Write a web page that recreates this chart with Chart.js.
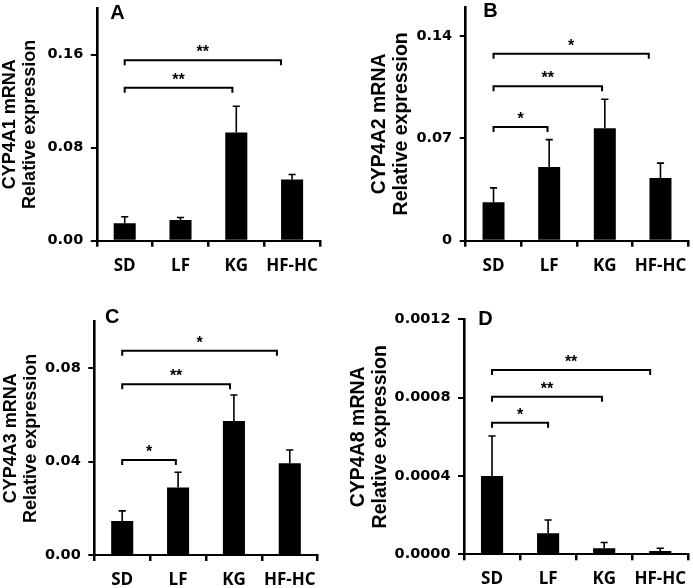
<!DOCTYPE html>
<html><head><meta charset="utf-8">
<script src="https://cdn.jsdelivr.net/npm/chart.js@4.4.1/dist/chart.umd.min.js"></script>
<style>
html,body{margin:0;padding:0;background:#fff;}
body{width:693px;height:588px;position:relative;overflow:hidden;}
canvas{position:absolute;}
</style></head><body>
<canvas id="cA" width="346" height="290" style="left:0;top:0"></canvas>
<canvas id="cB" width="347" height="290" style="left:346px;top:0"></canvas>
<canvas id="cC" width="346" height="298" style="left:0;top:290px"></canvas>
<canvas id="cD" width="347" height="298" style="left:346px;top:290px"></canvas>
<script>
// ---------- data ----------
const categories = ['SD', 'LF', 'KG', 'HF-HC'];

const cyp4a1Mean = [0.0150, 0.0177, 0.0929, 0.0526];
const cyp4a1Err  = [0.0056, 0.0023, 0.0226, 0.0043];
const cyp4a1Max = 0.2;
const cyp4a1Ticks = [0, 0.08, 0.16];
const cyp4a1TickLabels = ['0.00', '0.08', '0.16'];
const cyp4a1Brackets = [
  {from: 0, to: 1.93, y: 0.1315, label: '**'},
  {from: 0, to: 2.80, y: 0.1550, label: '**'}
];

const cyp4a2Mean = [0.0264, 0.0505, 0.0770, 0.0430];
const cyp4a2Err  = [0.0098, 0.0187, 0.0198, 0.0101];
const cyp4a2Max = 0.16;
const cyp4a2Ticks = [0, 0.07, 0.14];
const cyp4a2TickLabels = ['0', '0.07', '0.14'];
const cyp4a2Brackets = [
  {from: 0, to: 0.97, y: 0.0779, label: '*'},
  {from: 0, to: 1.95, y: 0.1057, label: '**'},
  {from: 0, to: 2.79, y: 0.1280, label: '*'}
];

const cyp4a3Mean = [0.0146, 0.0289, 0.0574, 0.0393];
const cyp4a3Err  = [0.0043, 0.0066, 0.0112, 0.0057];
const cyp4a3Max = 0.1;
const cyp4a3Ticks = [0, 0.04, 0.08];
const cyp4a3TickLabels = ['0.00', '0.04', '0.08'];
const cyp4a3Brackets = [
  {from: 0, to: 0.96, y: 0.0407, label: '*'},
  {from: 0, to: 1.93, y: 0.0732, label: '**'},
  {from: 0, to: 2.77, y: 0.0875, label: '*'}
];

const cyp4a8Mean = [0.000400, 0.000107, 0.000031, 0.000017];
const cyp4a8Err  = [0.000204, 0.000068, 0.000029, 0.000014];
const cyp4a8Max = 0.0012;
const cyp4a8Ticks = [0, 0.0004, 0.0008, 0.0012];
const cyp4a8TickLabels = ['0.0000', '0.0004', '0.0008', '0.0012'];
const cyp4a8Brackets = [
  {from: 0, to: 1.00, y: 0.000672, label: '*'},
  {from: 0, to: 1.96, y: 0.000805, label: '**'},
  {from: 0, to: 2.82, y: 0.000941, label: '**'}
];

// ---------- drawing ----------
function makePanel(id, p) {
  const annot = {
    id: 'annot_' + id,
    afterDatasetsDraw(chart) {
      const ctx = chart.ctx, xs = chart.scales.x, ys = chart.scales.y;
      const meta = chart.getDatasetMeta(0);
      ctx.save();
      ctx.strokeStyle = '#000';
      ctx.fillStyle = '#000';
      // error bars (upper only)
      ctx.lineWidth = 1.6;
      p.err.forEach((e, i) => {
        const bar = meta.data[i];
        const yt = ys.getPixelForValue(p.mean[i] + e);
        ctx.beginPath();
        ctx.moveTo(bar.x, bar.y);
        ctx.lineTo(bar.x, yt);
        ctx.moveTo(bar.x - 3.6, yt);
        ctx.lineTo(bar.x + 3.6, yt);
        ctx.stroke();
      });
      // significance brackets
      ctx.lineWidth = 2;
      ctx.font = 'bold 16px "Liberation Sans"';
      ctx.textAlign = 'center';
      ctx.textBaseline = 'alphabetic';
      p.brackets.forEach(b => {
        const x1 = xs.getPixelForValue(b.from), x2 = xs.getPixelForValue(b.to);
        const yy = ys.getPixelForValue(b.y);
        ctx.beginPath();
        ctx.moveTo(x1, yy + 5); ctx.lineTo(x1, yy); ctx.lineTo(x2, yy); ctx.lineTo(x2, yy + 5);
        ctx.stroke();
        ctx.fillText(b.label, (x1 + x2) / 2, yy - 3);
      });
      // panel letter
      ctx.font = 'bold 20px "Liberation Sans"';
      ctx.textAlign = 'left';
      ctx.fillText(p.letter, chart.chartArea.left + p.letterDx, chart.chartArea.top + p.letterDy);
      ctx.restore();
    }
  };
  return new Chart(document.getElementById(id), {
    type: 'bar',
    data: {
      labels: categories,
      datasets: [{
        data: p.mean,
        backgroundColor: '#000',
        borderWidth: 0,
        barPercentage: 0.395,
        categoryPercentage: 1
      }]
    },
    options: {
      responsive: false,
      animation: false,
      devicePixelRatio: 1,
      layout: {padding: {left: 0, top: p.padTop, right: p.padRight, bottom: 0}},
      plugins: {legend: {display: false}, tooltip: {enabled: false}},
      scales: {
        x: {
          type: 'category',
          offset: true,
          grid: {offset: true, drawOnChartArea: false, drawTicks: true, tickLength: 6, lineWidth: 2.5, color: '#000'},
          border: {display: true, color: '#000', width: 2},
          ticks: {color: '#000', padding: 9, font: {family: '"Open Sans"', weight: 'bold', size: 17}, maxRotation: 0},
          afterFit: s => { s.height = p.xH; s.paddingLeft = 0; s.paddingRight = 0; }
        },
        y: {
          min: 0,
          max: p.max,
          grid: {drawOnChartArea: false, drawTicks: true, tickLength: 6, lineWidth: 2, color: '#000'},
          border: {display: true, color: '#000', width: 2.6},
          ticks: {
            color: '#000', padding: 7.5,
            font: {family: '"DejaVu Sans"', weight: 'bold', size: 14.5},
            callback: (v, i) => p.tickLabels[i]
          },
          afterBuildTicks: s => { s.ticks = p.ticks.map(v => ({value: v})); },
          title: {
            display: true,
            text: p.title,
            color: '#000',
            font: {family: '"Liberation Sans"', weight: 'bold', size: p.titleSize, lineHeight: 1.1},
            padding: {top: p.titlePad, bottom: 0}
          },
          afterFit: s => { s.width = p.yW; s.paddingTop = 0; s.paddingBottom = 0; }
        }
      }
    },
    plugins: [annot]
  });
}

makePanel('cA', {
  mean: cyp4a1Mean, err: cyp4a1Err, max: cyp4a1Max, ticks: cyp4a1Ticks, tickLabels: cyp4a1TickLabels,
  brackets: cyp4a1Brackets, title: ['CYP4A1 mRNA', 'Relative expression'],
  letter: 'A', letterDx: 13.5, letterDy: 10.5,
  padTop: 8, padRight: 26, yW: 96.8, xH: 49.3, titleSize: 18, titlePad: 0.6
});
makePanel('cB', {
  mean: cyp4a2Mean, err: cyp4a2Err, max: cyp4a2Max, ticks: cyp4a2Ticks, tickLabels: cyp4a2TickLabels,
  brackets: cyp4a2Brackets, title: ['CYP4A2 mRNA', 'Relative expression'],
  letter: 'B', letterDx: 17.6, letterDy: 9.7,
  padTop: 7, padRight: 4.7, yW: 119.7, xH: 49.3, titleSize: 19.5, titlePad: 23.3
});
makePanel('cC', {
  mean: cyp4a3Mean, err: cyp4a3Err, max: cyp4a3Max, ticks: cyp4a3Ticks, tickLabels: cyp4a3TickLabels,
  brackets: cyp4a3Brackets, title: ['CYP4A3 mRNA', 'Relative expression'],
  letter: 'C', letterDx: 10.7, letterDy: 1.3,
  padTop: 31.7, padRight: 28.3, yW: 94.3, xH: 33, titleSize: 18, titlePad: 1
});
makePanel('cD', {
  mean: cyp4a8Mean, err: cyp4a8Err, max: cyp4a8Max, ticks: cyp4a8Ticks, tickLabels: cyp4a8TickLabels,
  brackets: cyp4a8Brackets, title: ['CYP4A8 mRNA', 'Relative expression'],
  letter: 'D', letterDx: 14.3, letterDy: 5.7,
  padTop: 29.3, padRight: 4.7, yW: 118, xH: 33.7, titleSize: 19.5, titlePad: 2.3
});
</script>
</body></html>
